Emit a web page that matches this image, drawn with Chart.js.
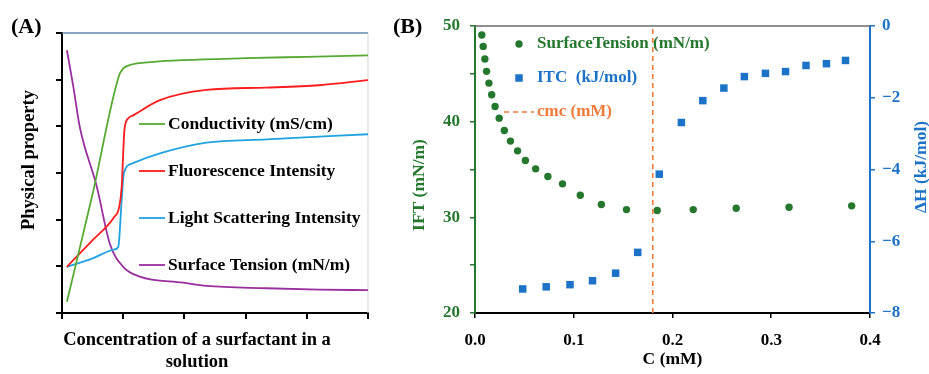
<!DOCTYPE html>
<html>
<head>
<meta charset="utf-8">
<script src="https://cdn.jsdelivr.net/npm/chart.js@4"></script>
<style>
    html, body { margin: 0; padding: 0; background: #fff; }
    #wrap { position: relative; width: 929px; height: 374px; overflow: hidden; }
    #chartA { position: absolute; left: 0; top: 0; }
    #chartB { position: absolute; left: 372px; top: 0; }
</style>
</head>
<body>
<div id="wrap">
    <canvas id="chartA" width="372" height="374"></canvas>
    <canvas id="chartB" width="557" height="374"></canvas>
</div>
<script>
// (A) schematic curves, arbitrary units
const condX = [0.08, 0.5, 0.93, 1.0, 1.1, 1.5, 2.0, 3.0, 4.0, 5.0];
const condY = [0.24, 2.55, 5.08, 5.24, 5.31, 5.38, 5.42, 5.46, 5.49, 5.52];
const fluoX = [0.08, 0.5, 0.85, 0.936, 0.975, 1.02, 1.08, 1.17, 1.6, 2.36, 3.34, 4.2, 5.0];
const fluoY = [0.99, 1.56, 2.05, 2.28, 2.7, 3.92, 4.17, 4.24, 4.56, 4.78, 4.83, 4.88, 4.99];
const scatX = [0.08, 0.5, 0.85, 0.92, 0.975, 1.01, 1.14, 1.6, 2.36, 3.34, 5.0];
const scatY = [0.99, 1.17, 1.36, 1.42, 2.42, 2.99, 3.2, 3.42, 3.65, 3.72, 3.83];
const stenX = [0.08, 0.185, 0.29, 0.57, 0.78, 1.0, 1.27, 1.98, 2.36, 3.34, 4.2, 5.0];
const stenY = [5.63, 4.85, 3.99, 2.7, 1.49, 0.99, 0.78, 0.65, 0.58, 0.53, 0.5, 0.49];

// (B) measured data
const ciftX = [0.0069, 0.0083, 0.0100, 0.0117, 0.0141, 0.0169, 0.0203, 0.0245, 0.0297, 0.0359, 0.0431, 0.051,
    0.0614, 0.0738, 0.0886, 0.1066, 0.128, 0.1534, 0.1845, 0.221, 0.2645, 0.318, 0.3814];
const iftY = [49.06, 47.87, 46.55, 45.26, 44.03, 42.81, 41.59, 40.37, 39.08, 37.97, 36.95, 35.94,
    35.07, 34.27, 33.50, 32.31, 31.34, 30.81, 30.71, 30.81, 30.95, 31.06, 31.20];
const citcX = [0.0483, 0.0721, 0.0962, 0.119, 0.1424, 0.1648, 0.1866, 0.209, 0.2307, 0.252, 0.2728, 0.2941,
    0.3145, 0.3352, 0.3559, 0.3752];
const dhY = [-7.33, -7.27, -7.21, -7.10, -6.89, -6.31, -4.13, -2.69, -2.08, -1.73, -1.41, -1.32,
    -1.27, -1.10, -1.05, -0.96];
const cmc = 0.18;
const iftLabels = [20, 30, 40, 50];
const dhLabels = [0, -2, -4, -6, -8];
const cLabels = [0, 0.1, 0.2, 0.3, 0.4];

const serif = size => 'bold ' + size + 'px "Liberation Serif", "DejaVu Serif", serif';
const green = '#25772d';
const blue = '#1b72c6';
const orange = '#ef7b3a';

const toPoints = (xs, ys) => xs.map((x, i) => ({ x: x, y: ys[i] }));

// free text: panel tags and rotated titles
const panelText = {
    id: 'panelText',
    afterDraw(chart, args, opts) {
        const ctx = chart.ctx;
        (opts.items || []).forEach(item => {
            ctx.save();
            ctx.translate(item.x, item.y);
            if (item.rotate) ctx.rotate(item.rotate);
            ctx.font = item.font;
            ctx.fillStyle = item.color || '#000';
            ctx.textAlign = item.align || 'center';
            ctx.textBaseline = 'middle';
            ctx.fillText(item.text, 0, 0);
            ctx.restore();
        });
    }
};

// top / right edge of the plot box
const plotFrame = {
    id: 'plotFrame',
    beforeDatasetsDraw(chart, args, opts) {
        const { ctx, chartArea: a } = chart;
        ctx.save();
        if (opts.top) {
            ctx.strokeStyle = opts.top;
            ctx.lineWidth = opts.topWidth || 1.5;
            ctx.beginPath();
            ctx.moveTo(a.left, a.top);
            ctx.lineTo(a.right, a.top);
            ctx.stroke();
        }
        if (opts.right) {
            ctx.strokeStyle = opts.right;
            ctx.lineWidth = opts.rightWidth || 1;
            ctx.beginPath();
            ctx.moveTo(a.right, a.top);
            ctx.lineTo(a.right, a.bottom);
            ctx.stroke();
        }
        ctx.restore();
    }
};

// legend placed inside the plot
const keyBox = {
    id: 'keyBox',
    afterDatasetsDraw(chart, args, opts) {
        const ctx = chart.ctx;
        (opts.items || []).forEach(item => {
            const ds = chart.data.datasets[item.index];
            ctx.save();
            if (item.marker === 'line' || item.marker === 'dash') {
                ctx.strokeStyle = ds.borderColor;
                ctx.lineWidth = ds.borderWidth;
                ctx.setLineDash(item.marker === 'dash' ? ds.borderDash : []);
                ctx.beginPath();
                ctx.moveTo(item.x, item.y);
                ctx.lineTo(item.x + item.len, item.y);
                ctx.stroke();
            } else if (item.marker === 'circle') {
                ctx.fillStyle = ds.backgroundColor;
                ctx.beginPath();
                ctx.arc(item.x, item.y, ds.pointRadius, 0, Math.PI * 2);
                ctx.fill();
            } else if (item.marker === 'rect') {
                const s = ds.pointRadius * Math.SQRT1_2;
                ctx.fillStyle = ds.backgroundColor;
                ctx.fillRect(item.x - s, item.y - s, 2 * s, 2 * s);
            }
            ctx.setLineDash([]);
            ctx.font = opts.font;
            ctx.fillStyle = item.color || '#000';
            ctx.textAlign = 'left';
            ctx.textBaseline = 'middle';
            ctx.fillText(ds.label, item.textX, item.y);
            ctx.restore();
        });
    }
};

document.addEventListener('DOMContentLoaded', () => {
    drawPanelA();
    drawPanelB();
});

function drawPanelA() {
    const curve = (label, xs, ys, color) => ({
        label: label,
        data: toPoints(xs, ys),
        borderColor: color,
        borderWidth: 1.8,
        pointRadius: 0,
        cubicInterpolationMode: 'monotone'
    });

    new Chart(document.getElementById('chartA'), {
        type: 'line',
        data: {
            datasets: [
                curve('Conductivity (mS/cm)', condX, condY, '#56a933'),
                curve('Fluorescence Intensity', fluoX, fluoY, '#ff1c1c'),
                curve('Light Scattering Intensity', scatX, scatY, '#1fa2df'),
                curve('Surface Tension (mN/m)', stenX, stenY, '#9a2f9f')
            ]
        },
        options: {
            responsive: false,
            animation: false,
            layout: { padding: { top: 33, right: 4, left: 0, bottom: 0 } },
            plugins: {
                legend: { display: false },
                tooltip: { enabled: false },
                plotFrame: { top: '#6289ab', topWidth: 1.6, right: '#d4d4d4', rightWidth: 1 },
                keyBox: {
                    font: serif(17.5),
                    items: [
                        { index: 0, marker: 'line', x: 139, y: 124, len: 26, textX: 168 },
                        { index: 1, marker: 'line', x: 139, y: 171, len: 26, textX: 168 },
                        { index: 2, marker: 'line', x: 139, y: 218, len: 26, textX: 168 },
                        { index: 3, marker: 'line', x: 139, y: 265, len: 26, textX: 168 }
                    ]
                },
                panelText: {
                    items: [
                        { text: '(A)', x: 11, y: 27, align: 'left', font: serif(22) },
                        { text: 'Physical property', x: 29, y: 160, rotate: -Math.PI / 2, font: serif(18.5) },
                        { text: 'Concentration of a surfactant in a', x: 197, y: 340, font: serif(18.5) },
                        { text: 'solution', x: 197, y: 362, font: serif(18.5) }
                    ]
                }
            },
            scales: {
                x: {
                    type: 'linear',
                    min: 0,
                    max: 5,
                    ticks: { display: false, stepSize: 1 },
                    grid: { drawOnChartArea: false, drawTicks: true, tickLength: 6, color: '#000', lineWidth: 2 },
                    border: { color: '#000', width: 2 },
                    afterFit: s => { s.height = 61; }
                },
                y: {
                    min: 0,
                    max: 6,
                    ticks: { display: false, stepSize: 1 },
                    grid: { drawOnChartArea: false, drawTicks: true, tickLength: 6, color: '#000', lineWidth: 2 },
                    border: { color: '#000', width: 2 },
                    afterFit: s => { s.width = 62; }
                }
            }
        },
        plugins: [plotFrame, keyBox, panelText]
    });
}

function drawPanelB() {
    const minus = v => String(v).replace('-', '\u2212');

    new Chart(document.getElementById('chartB'), {
        type: 'scatter',
        data: {
            datasets: [
                {
                    label: 'cmc (mM)',
                    data: [{ x: cmc, y: iftLabels[0] }, { x: cmc, y: iftLabels[iftLabels.length - 1] }],
                    showLine: true,
                    borderColor: orange,
                    borderWidth: 1.6,
                    borderDash: [5, 4],
                    pointRadius: 0,
                    yAxisID: 'y'
                },
                {
                    label: 'SurfaceTension (mN/m)',
                    data: toPoints(ciftX, iftY),
                    backgroundColor: green,
                    borderColor: green,
                    borderWidth: 0,
                    pointRadius: 3.7,
                    pointStyle: 'circle',
                    yAxisID: 'y'
                },
                {
                    label: 'ITC  (kJ/mol)',
                    data: toPoints(citcX, dhY),
                    backgroundColor: blue,
                    borderColor: blue,
                    borderWidth: 0,
                    pointRadius: 5.3,
                    pointStyle: 'rect',
                    yAxisID: 'y1'
                }
            ]
        },
        options: {
            responsive: false,
            animation: false,
            layout: { padding: { top: 26, right: 0, left: 0, bottom: 0 } },
            plugins: {
                legend: { display: false },
                tooltip: { enabled: false },
                plotFrame: { top: '#6b6b6b', topWidth: 1.5 },
                keyBox: {
                    font: serif(17),
                    items: [
                        { index: 1, marker: 'circle', x: 147, y: 44, textX: 165, color: green },
                        { index: 2, marker: 'rect', x: 147, y: 78, textX: 165, color: blue },
                        { index: 0, marker: 'dash', x: 132, y: 112, len: 30, textX: 165, color: orange }
                    ]
                },
                panelText: {
                    items: [
                        { text: '(B)', x: 21, y: 27, align: 'left', font: serif(22) },
                        { text: 'IFT (mN/m)', x: 47, y: 185, rotate: -Math.PI / 2, font: serif(17.5), color: green },
                        { text: '\u0394H (kJ/mol)', x: 549, y: 167, rotate: -Math.PI / 2, font: serif(17.5), color: blue }
                    ]
                }
            },
            scales: {
                x: {
                    type: 'linear',
                    min: cLabels[0],
                    max: cLabels[cLabels.length - 1],
                    ticks: {
                        stepSize: 0.1,
                        color: '#000',
                        font: { family: '"Liberation Serif", serif', size: 17, weight: 'bold' },
                        padding: 12,
                        callback: v => cLabels.some(c => Math.abs(c - v) < 1e-6) ? v.toFixed(1) : ''
                    },
                    grid: { drawOnChartArea: false, drawTicks: true, tickLength: 5, color: '#000', lineWidth: 1.5 },
                    border: { color: '#000', width: 2 },
                    title: {
                        display: true,
                        text: 'C (mM)',
                        color: '#000',
                        font: { family: '"Liberation Serif", serif', size: 17.5, weight: 'bold' },
                        padding: { top: 0, bottom: 4 }
                    },
                    afterFit: s => { s.height = 61; }
                },
                y: {
                    position: 'left',
                    min: 20,
                    max: 50,
                    ticks: {
                        stepSize: 5,
                        color: green,
                        font: { family: '"Liberation Serif", serif', size: 17, weight: 'bold' },
                        padding: 10,
                        callback: v => iftLabels.includes(v) ? String(v) : ''
                    },
                    grid: { drawOnChartArea: false, drawTicks: true, tickLength: 5, color: green, lineWidth: 1.5 },
                    border: { color: green, width: 2 },
                    afterFit: s => { s.width = 103; }
                },
                y1: {
                    position: 'right',
                    min: -8,
                    max: 0,
                    ticks: {
                        stepSize: 2,
                        color: blue,
                        font: { family: '"Liberation Serif", serif', size: 17, weight: 'bold' },
                        padding: 7,
                        callback: v => dhLabels.includes(v) ? minus(v) : ''
                    },
                    grid: { drawOnChartArea: false, drawTicks: true, tickLength: 5, color: blue, lineWidth: 1.5 },
                    border: { color: blue, width: 2 },
                    afterFit: s => { s.width = 59; }
                }
            }
        },
        plugins: [plotFrame, keyBox, panelText]
    });
}
</script>
</body>
</html>
